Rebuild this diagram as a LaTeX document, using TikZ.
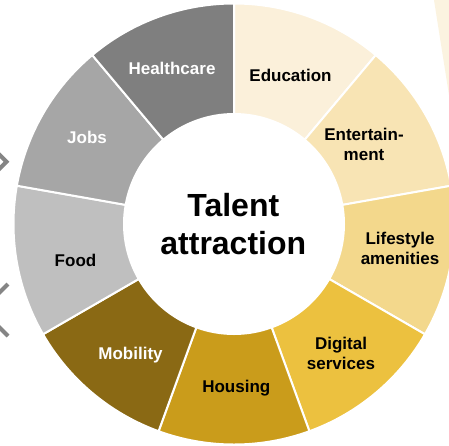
\documentclass[tikz,border=0pt]{standalone}
\usepackage{fontspec}
\setmainfont{Liberation Sans}
\definecolor{cEdu}{HTML}{FBF0DA}
\definecolor{cEnt}{HTML}{F8E4B4}
\definecolor{cLife}{HTML}{F3D88C}
\definecolor{cDig}{HTML}{ECC13F}
\definecolor{cHou}{HTML}{CA9C1B}
\definecolor{cMob}{HTML}{8A6914}
\definecolor{cFood}{HTML}{BFBFBF}
\definecolor{cJobs}{HTML}{A6A6A6}
\definecolor{cHealth}{HTML}{7F7F7F}
\definecolor{cCream}{HTML}{FBF3E0}
\definecolor{cChev}{HTML}{858585}
\begin{document}
\begin{tikzpicture}[x=1pt,y=1pt,
  lbl/.style={font=\bfseries\fontsize{17}{20}\selectfont, align=center, inner sep=0pt, text=black},
  wlbl/.style={lbl, text=white},
  chev/.style={draw=cChev, line width=4},
  seg/.style={draw=white, line width=2}]
\useasboundingbox (0,0) rectangle (449,-445);
\clip (0,0) rectangle (449,-445);
\fill[white] (0,0) rectangle (449,-445);
% background fragments
\fill[cCream] (434,0) -- (449,0) -- (449,-95) -- cycle;
\draw[chev] (-5,-150.2) -- (6.5,-161.7) -- (-5,-173.2);
\draw[chev] (8,-284) -- (-4,-296);
\draw[chev] (-4,-324) -- (8,-336);
% ring
\begin{scope}[shift={(234,-224)}]
\foreach \a/\c in {50/cEdu, 10/cEnt, -30/cLife, -70/cDig, -110/cHou, -150/cMob, 170/cFood, 130/cJobs, 90/cHealth}
  \filldraw[seg, fill=\c] (\a:220.5) arc[start angle=\a, end angle=\a+40, radius=220.5]
     -- ({\a+40}:110) arc[start angle=\a+40, end angle=\a, radius=110] -- cycle;
\node[font=\bfseries\fontsize{32}{38}\selectfont, align=center, inner sep=0pt] (core) at (-0.7,0.3) {Talent\\attraction};
\end{scope}
% labels
\node[wlbl, anchor=base] (health) at (172,-74) {Healthcare};
\node[lbl, anchor=base] (edu) at (290.5,-81) {Education};
\node[lbl] (ent) at (364,-144.5) {Entertain-\\ment};
\node[lbl] (life) at (400,-248.5) {Lifestyle\\amenities};
\node[lbl] (dig) at (341,-353) {Digital\\services};
\node[lbl, anchor=base] (hou) at (236.3,-392.7) {Housing};
\node[wlbl, anchor=base] (mob) at (130.5,-359) {Mobility};
\node[lbl, anchor=base] (food) at (75.5,-266) {Food};
\node[wlbl, anchor=base] (jobs) at (87,-143) {Jobs};
\end{tikzpicture}
\end{document}
